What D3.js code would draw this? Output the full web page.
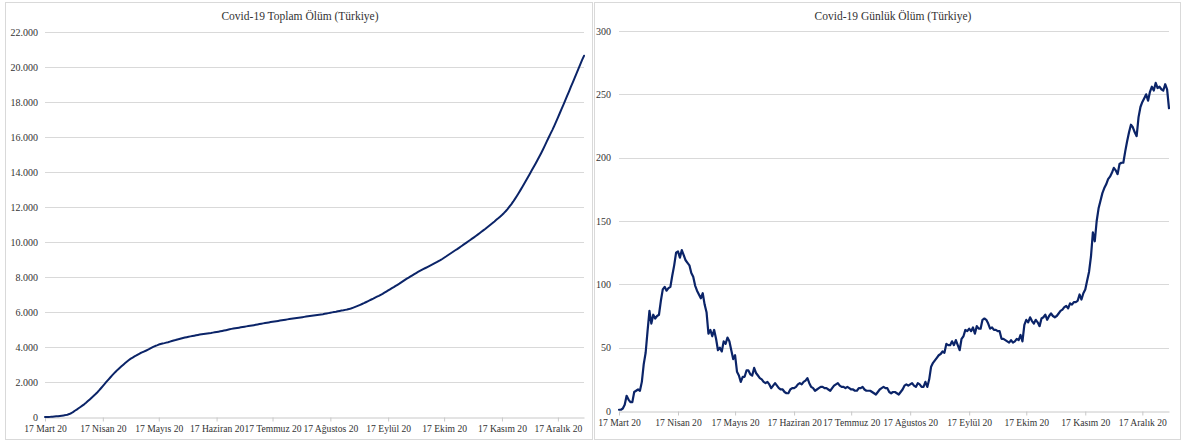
<!DOCTYPE html>
<html>
<head>
<meta charset="utf-8">
<script src="https://cdn.jsdelivr.net/npm/d3@7"></script>
<style>
  body { margin: 0; background: #fff; }
  svg { display: block; }
  svg text { font-family: "Liberation Serif", "Times New Roman", serif; }
</style>
</head>
<body>
<svg id="chart" width="1182" height="443"></svg>
<script>
// Daily COVID-19 deaths in Türkiye, 17 March – 31 December 2020 (one value per day)
const dailyMar = [1, 1, 2, 5, 12, 9, 7, 7, 15, 16, 17, 16, 23, 37, 46];
const dailyApr = [63, 79, 69, 76, 73, 75, 76, 87, 96, 98, 95, 97, 98, 107, 115,
                  125, 126, 121, 127, 123, 119, 117, 115, 109, 106, 99, 95, 92, 89, 93];
const dailyMay = [84, 78, 61, 64, 59, 64, 57, 48, 50, 47, 55, 53, 58, 55, 48, 41,
                  44, 31, 28, 23, 27, 27, 32, 32, 29, 28, 34, 30, 28, 26, 25];
const dailyJun = [23, 22, 23, 21, 18, 20, 22, 20, 18, 17, 17, 15, 14, 14, 17,
                  18, 18, 19, 21, 22, 21, 23, 24, 26, 22, 19, 18, 16, 17, 18];
const dailyJul = [19, 19, 18, 18, 17, 16, 18, 20, 21, 22, 20, 19, 19, 18, 19, 18,
                  17, 17, 16, 16, 18, 18, 19, 17, 16, 16, 16, 15, 14, 13, 15];
const dailyAug = [17, 18, 19, 18, 18, 15, 14, 15, 15, 14, 13, 15, 17, 20, 21, 20,
                  21, 22, 20, 19, 22, 21, 19, 19, 23, 19, 25, 35, 38, 40, 42];
const dailySep = [44, 45, 47, 46, 53, 52, 52, 55, 52, 56, 52, 48, 57, 59, 64,
                  63, 65, 63, 66, 61, 67, 65, 65, 72, 73, 72, 69, 65, 66, 64];
const dailyOct = [64, 63, 63, 57, 57, 56, 55, 54, 56, 54, 55, 57, 56, 60, 55, 68,
                  72, 70, 74, 71, 69, 72, 70, 67, 73, 74, 76, 72, 75, 77, 75];
const dailyNov = [74, 75, 77, 79, 80, 82, 83, 81, 85, 84, 86, 86, 87, 92, 88,
                  93, 96, 103, 110, 122, 141, 134, 150, 160, 166, 172, 176, 179, 183, 185];
const dailyDec = [188, 192, 190, 187, 195, 196, 196, 205, 213, 220, 226, 224, 220, 217, 232, 240,
                  244, 247, 250, 245, 252, 256, 253, 259, 255, 256, 254, 253, 258, 254, 239];

// Axis tick labels
const monthNames = ["Mart", "Nisan", "Mayıs", "Haziran", "Temmuz",
                    "Ağustos", "Eylül", "Ekim", "Kasım", "Aralık"];
const tickLabels = monthNames.map(m => `17 ${m} 20`);
const totalTicks = [0, 2000, 4000, 6000, 8000, 10000, 12000, 14000, 16000, 18000, 20000, 22000];
const dailyTicks = [0, 50, 100, 150, 200, 250, 300];

const titleTotal = "Covid-19 Toplam Ölüm (Türkiye)";
const titleDaily = "Covid-19 Günlük Ölüm (Türkiye)";

// ---------------------------------------------------------------------------
const daily = [].concat(dailyMar, dailyApr, dailyMay, dailyJun, dailyJul,
                        dailyAug, dailySep, dailyOct, dailyNov, dailyDec);
const firstDay = new Date(Date.UTC(2020, 2, 17));
const dates = daily.map((_, i) => d3.utcDay.offset(firstDay, i));
// running total of the daily deaths
const total = Array.from(d3.cumsum(daily));
const tickDates = monthNames.map((_, i) => new Date(Date.UTC(2020, 2 + i, 17)));

const trLocale = d3.formatLocale({ decimal: ",", thousands: ".", grouping: [3], currency: ["", "₺"] });
const fmtThousands = trLocale.format(",.0f");

const svg = d3.select("#chart");
const FONT = '"Liberation Serif", "Times New Roman", serif';
const LINE = "#0b2468";
const GRID = "#d9d9d9";
const AXIS = "#c8c8c8";
const TEXT = "#333333";

function panel(cfg) {
  const g = svg.append("g");

  // chart frame
  g.append("rect")
    .attr("x", cfg.frame[0] + 0.5).attr("y", cfg.frame[1] + 0.5)
    .attr("width", cfg.frame[2]).attr("height", cfg.frame[3])
    .attr("fill", "#fff").attr("stroke", "#d9d9d9").attr("stroke-width", 1);

  const x = d3.scaleUtc()
    .domain([dates[0], dates[dates.length - 1]])
    .range(cfg.xRange);
  const y = d3.scaleLinear()
    .domain([0, d3.max(cfg.yTicks)])
    .range(cfg.yRange);

  // horizontal gridlines
  g.append("g")
    .selectAll("line")
    .data(cfg.yTicks.filter(v => v > 0))
    .join("line")
    .attr("x1", cfg.xRange[0]).attr("x2", cfg.xRange[1])
    .attr("y1", d => Math.round(y(d)) + 0.5).attr("y2", d => Math.round(y(d)) + 0.5)
    .attr("stroke", GRID).attr("stroke-width", 1);

  // y labels
  const yAxis = d3.axisLeft(y)
    .tickValues(cfg.yTicks)
    .tickFormat(cfg.yFormat)
    .tickSize(0)
    .tickPadding(cfg.yPad);
  const ya = g.append("g").attr("transform", `translate(${cfg.xRange[0]},0)`).call(yAxis);
  ya.select(".domain").remove();
  ya.attr("font-family", null);
  ya.selectAll("text")
    .style("font-family", FONT)
    .style("font-size", "10px").attr("fill", TEXT);

  // x axis with month ticks
  const xAxis = d3.axisBottom(x)
    .tickValues(tickDates)
    .tickFormat((d, i) => tickLabels[i])
    .tickSizeInner(4)
    .tickSizeOuter(0)
    .tickPadding(4);
  const xa = g.append("g")
    .attr("transform", `translate(0,${Math.round(cfg.yRange[0]) + 0.5})`)
    .call(xAxis);
  xa.attr("font-family", null);
  xa.select(".domain").attr("stroke", AXIS);
  xa.selectAll(".tick line").attr("stroke", AXIS);
  xa.selectAll("text")
    .style("font-family", FONT)
    .style("font-size", "9.6px").attr("fill", TEXT);

  // series line
  const line = d3.line()
    .x((d, i) => x(dates[i]))
    .y(d => y(d));
  g.append("path")
    .datum(cfg.values)
    .attr("d", line)
    .attr("fill", "none")
    .attr("stroke", LINE)
    .attr("stroke-width", cfg.lineWidth)
    .attr("stroke-linejoin", "round")
    .attr("stroke-linecap", "round");

  // title
  g.append("text")
    .attr("x", cfg.titlePos[0]).attr("y", cfg.titlePos[1])
    .attr("text-anchor", "middle")
    .style("font-family", FONT)
    .style("font-size", "11.5px")
    .attr("fill", TEXT)
    .text(cfg.title);
}

panel({
  frame: [5, 2, 587, 437],
  xRange: [45, 584],
  yRange: [417, 32],
  yTicks: totalTicks,
  yFormat: d => fmtThousands(d),
  yPad: 7,
  values: total,
  lineWidth: 2,
  title: titleTotal,
  titlePos: [300, 20]
});

panel({
  frame: [594, 2, 586, 437],
  xRange: [619, 1169],
  yRange: [411, 31],
  yTicks: dailyTicks,
  yFormat: d => String(d),
  yPad: 8,
  values: daily,
  lineWidth: 2.2,
  title: titleDaily,
  titlePos: [893, 20]
});
</script>
</body>
</html>
